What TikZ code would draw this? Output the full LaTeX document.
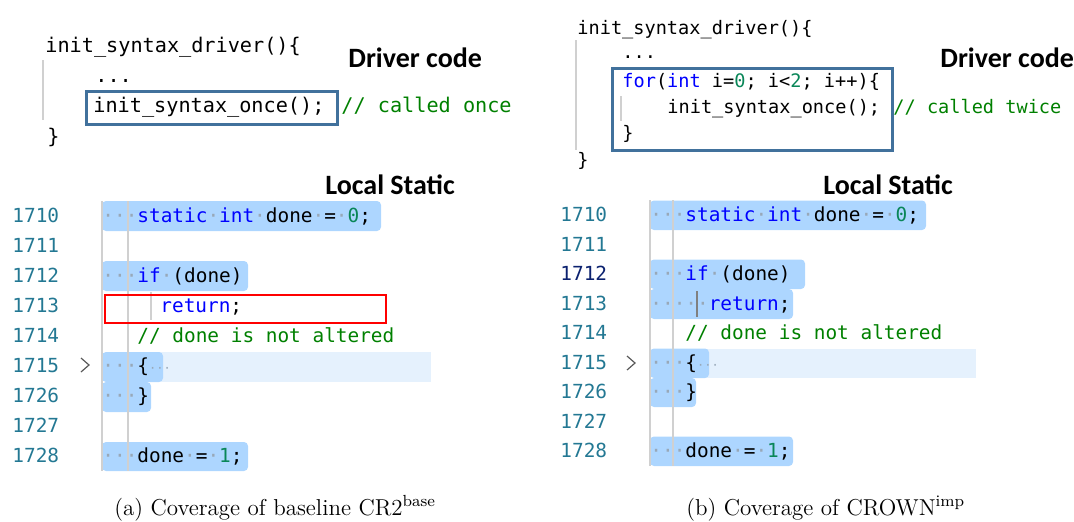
\documentclass[tikz,border=0pt]{standalone}
\usepackage{fontspec}
\setmonofont{DejaVu Sans Mono}
\newfontfamily\headfont{Carlito}

\definecolor{hlblue}{HTML}{ADD6FF}
\definecolor{curline}{HTML}{E5F1FD}
\definecolor{guidegray}{HTML}{D0D0D0}
\definecolor{wsgray}{HTML}{98A8B8}
\definecolor{kwblue}{HTML}{0000FF}
\definecolor{numgreen}{HTML}{098658}
\definecolor{cmtgreen}{HTML}{008000}
\definecolor{lnteal}{HTML}{237893}
\definecolor{lnactive}{HTML}{0B216F}
\definecolor{boxblue}{HTML}{41719C}

\newcommand{\ws}{{\color{wsgray}\textperiodcentered}}
\newcommand{\ckw}[1]{{\color{kwblue}#1}}
\newcommand{\cnum}[1]{{\color{numgreen}#1}}
\newcommand{\fold}{{\fontsize{6}{6}\selectfont\ws\ws\ws}}

\begin{document}
\begin{tikzpicture}[x=0.5pt,y=-0.5pt,
  codeln/.style={inner sep=0pt,anchor=base west,font=\ttfamily\fontsize{9.7}{11}\selectfont},
  drvL/.style={codeln,font=\ttfamily\fontsize{10.1}{12}\selectfont},
  drvR/.style={codeln,font=\ttfamily\fontsize{9.3}{11}\selectfont},
  lnum/.style={codeln,text=lnteal},
  cmttxt/.style={text=cmtgreen},
  hlbar/.style={fill=hlblue,rounded corners=2pt},
  guideln/.style={draw=guidegray,line width=0.6pt},
  drvbox/.style={draw=boxblue,line width=1.5pt},
  headtxt/.style={inner sep=0pt,anchor=base west,font=\headfont\bfseries\fontsize{14}{16}\selectfont},
  capt/.style={inner sep=0pt,anchor=base west,font=\fontsize{11.5}{13}\selectfont}]
\useasboundingbox (0,0) rectangle (1074,521);

% (a) driver code
\draw[guideln] (43,60)--(43,120);
\node[drvL] (drvA) at (45,52) {init\_syntax\_driver()\{};
\node[drvL] (dotsA) at (95,82) {...};
\node[drvL] (onceA) at (93,112) {init\_syntax\_once();};
\node[drvL,cmttxt] (cmtA) at (341,112) {// called once};
\node[drvL] (closeA) at (47,143) {\}};
\draw[drvbox] (86,91) rectangle (337,124);
\node[headtxt] (headA) at (348,67) {Driver code};

% (a) local static
\node[headtxt] (statA) at (325,194) {Local Static};
\fill[curline] (150,352) rectangle (431,382);
\fill[hlbar] (102,201) rectangle (381,231);
\fill[hlbar] (102,261) rectangle (248,291);
\fill[hlbar] (102,352) rectangle (163,382);
\fill[hlbar] (102,382) rectangle (151,412);
\fill[hlbar] (102,442) rectangle (248,471);
\draw[guideln] (102,201)--(102,471);
\draw[guideln] (128,201)--(128,471);
\draw[guideln] (151,292)--(151,320);
\node[lnum] (a1710) at (12,222) {1710};
\node[lnum] (a1711) at (12,252) {1711};
\node[lnum] (a1712) at (12,282) {1712};
\node[lnum] (a1713) at (12,312) {1713};
\node[lnum] (a1714) at (12,342) {1714};
\node[lnum] (a1715) at (12,372) {1715};
\node[lnum] (a1726) at (12,402) {1726};
\node[lnum] (a1727) at (12,432) {1727};
\node[lnum] (a1728) at (12,462) {1728};
\draw[black!65,line width=0.6pt] (81,358)--(89,365)--(81,372);
\node[codeln] (sA) at (102,222) {\ws\ws\ws\ckw{static}\ws\ckw{int}\ws done\ws=\ws\cnum{0};};
\node[codeln] (ifA) at (102,282) {\ws\ws\ws\ckw{if}\ws(done)};
\node[codeln] (retA) at (160,312) {\ckw{return};};
\node[codeln,cmttxt] (noteA) at (137,342) {// done is not altered};
\node[codeln] (openA) at (102,372) {\ws\ws\ws\{\fold};
\node[codeln] (shutA) at (102,402) {\ws\ws\ws\}};
\node[codeln] (setA) at (102,462) {\ws\ws\ws done\ws=\ws\cnum{1};};
\draw[red,line width=0.8pt] (105,295) rectangle (386,323);

% (b) driver code
\draw[guideln] (576,40)--(576,150);
\draw[guideln] (621,96)--(621,121);
\node[drvR] (drvB) at (577,34) {init\_syntax\_driver()\{};
\node[drvR] (dotsB) at (622,58) {...};
\node[drvR] (forB) at (622,87) {\ckw{for}(\ckw{int} i=\cnum{0}; i<\cnum{2}; i++)\{};
\node[drvR] (onceB) at (667,113) {init\_syntax\_once();};
\node[drvR,cmttxt] (cmtB) at (893,113) {// called twice};
\node[drvR] (closeinB) at (622,139) {\}};
\node[drvR] (closeB) at (577,166) {\}};
\draw[drvbox] (612,68) rectangle (892,150);
\node[headtxt] (headB) at (940,67) {Driver code};

% (b) local static
\node[headtxt] (statB) at (823,194) {Local Static};
\fill[curline] (700,348.5) rectangle (976,378);
\fill[hlbar] (650,200.5) rectangle (926,230);
\fill[hlbar] (650,259.5) rectangle (805,289);
\fill[hlbar] (650,289) rectangle (793,319);
\fill[hlbar] (650,348.5) rectangle (709,378);
\fill[hlbar] (650,378) rectangle (696,407);
\fill[hlbar] (650,436.5) rectangle (793,466);
\draw[guideln] (650,200)--(650,466);
\draw[guideln] (673,200)--(673,466);
\draw[gray,line width=0.6pt] (697,291)--(697,317);
\node[lnum] (b1710) at (560,221) {1710};
\node[lnum] (b1711) at (560,251) {1711};
\node[lnum,text=lnactive] (b1712) at (560,280) {1712};
\node[lnum] (b1713) at (560,310) {1713};
\node[lnum] (b1714) at (560,339) {1714};
\node[lnum] (b1715) at (560,369) {1715};
\node[lnum] (b1726) at (560,398) {1726};
\node[lnum] (b1727) at (560,428) {1727};
\node[lnum] (b1728) at (560,457) {1728};
\draw[black!65,line width=0.6pt] (627,356)--(635,363)--(627,370);
\node[codeln] (sB) at (650,221) {\ws\ws\ws\ckw{static}\ws\ckw{int}\ws done\ws=\ws\cnum{0};};
\node[codeln] (ifB) at (650,280) {\ws\ws\ws\ckw{if}\ws(done)};
\node[codeln] (retB) at (650,310) {\ws\ws\ws\ws\ws\ckw{return};};
\node[codeln,cmttxt] (noteB) at (685,339) {// done is not altered};
\node[codeln] (openB) at (650,369) {\ws\ws\ws\{\fold};
\node[codeln] (shutB) at (650,398) {\ws\ws\ws\}};
\node[codeln] (setB) at (650,457) {\ws\ws\ws done\ws=\ws\cnum{1};};

% captions
\node[capt] (captA) at (114,515) {(a)\ Coverage of baseline CR2$^{\mathrm{base}}$};
\node[capt] (captB) at (686,515) {(b)\ Coverage of CROWN$^{\mathrm{imp}}$};
\end{tikzpicture}
\end{document}
